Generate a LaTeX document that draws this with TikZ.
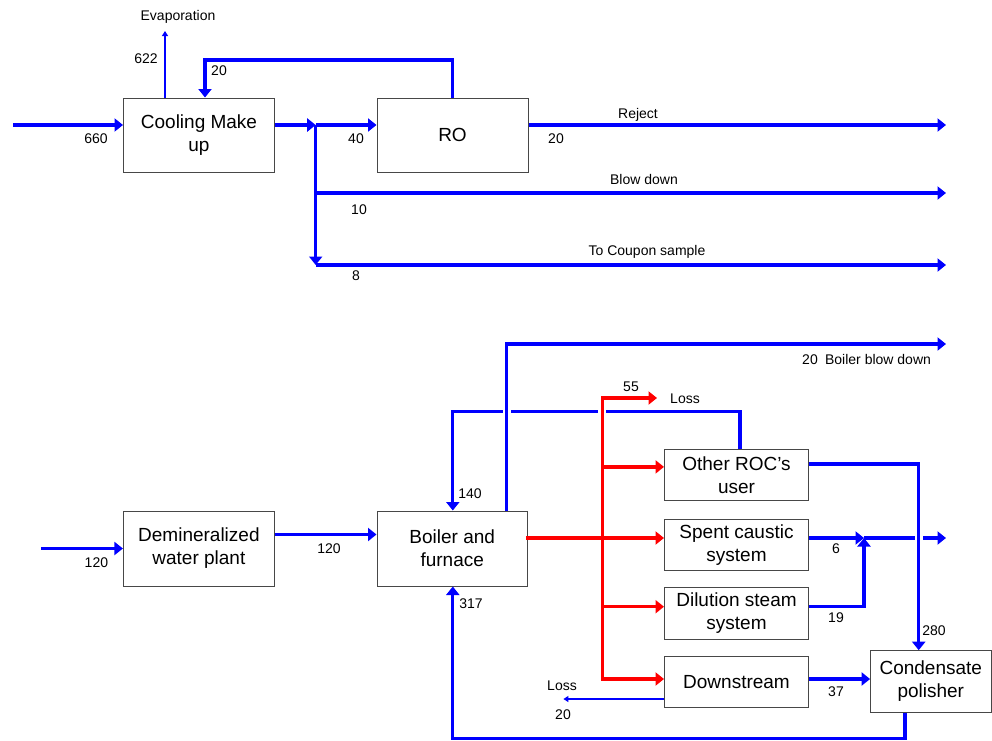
\documentclass[tikz,border=0pt]{standalone}
\usepackage{fontspec}
\setmainfont{Liberation Sans}
\usetikzlibrary{arrows.meta,calc}
\begin{document}
\begin{tikzpicture}[x=1pt,y=-1pt,
  box/.style={draw=black!72,line width=1pt,fill=white,align=center,inner sep=0pt,font=\fontsize{19}{23}\selectfont},
  lbl/.style={inner sep=0pt,text height=10pt,text depth=0pt,font=\fontsize{14}{16}\selectfont},
  flow/.style={draw=blue,line width=3.3pt,-{Triangle[length=8.5pt,width=13pt]}},
  bline/.style={draw=blue,line width=3.3pt},
  rflow/.style={draw=red,line width=3.3pt,line cap=rect,-{Triangle[length=8.5pt,width=13pt]}},
  thinflow/.style={draw=blue,line width=1.2pt,-{Triangle[length=5pt,width=6pt]}},
  halo/.style={draw=white,line width=8pt}
]
\useasboundingbox (0,0) rectangle (992,740);

% ---------- boxes ----------
\node[box,minimum width=151pt,minimum height=74.5pt] (cool) at (199,135.25) {Cooling Make\\up};
\node[box,minimum width=151pt,minimum height=74.5pt] (ro) at (452.5,135.25) {RO};
\node[box,minimum width=151pt,minimum height=75pt] (demin) at (198.9,548.5) {Demineralized\\water plant};
\node[box,minimum width=150.5pt,minimum height=75pt] (boiler) at (452.25,548.5) {Boiler and\\furnace};
\node[box,minimum width=144pt,minimum height=51.7pt] (other) at (736.5,474.9) {Other ROC’s\\user};
\node[box,minimum width=144pt,minimum height=51.4pt] (spent) at (736.5,545) {Spent caustic\\system};
\node[box,minimum width=144pt,minimum height=51.3pt] (dil) at (736.5,613.4) {Dilution steam\\system};
\node[box,minimum width=144pt,minimum height=51.3pt] (down) at (736.5,681.7) {Downstream};
\node[box,minimum width=120.4pt,minimum height=61.6pt] (cond) at (930.8,681.5) {Condensate\\polisher};

% ---------- top coordinates ----------
\coordinate (inA) at (13,125);
\coordinate (evap) at (165,31);
\coordinate (rc1) at (452.5,60);
\coordinate (rc2) at (205,60);
\coordinate (j) at (315.7,125);
\coordinate (jm) at (315.7,193);
\coordinate (jb) at (315.7,265);
\coordinate (rej) at (946,125);
\coordinate (bd) at (946,193);
\coordinate (cp) at (946,265);

% ---------- top connectors ----------
\draw[flow] (inA) -- (inA -| cool.west);
\draw[thinflow] (cool.north -| evap) -- (evap);
\draw[flow] (ro.north) -- (rc1) -- (rc2) -- (rc2 |- cool.north);
\draw[flow] (cool.east |- j) -- (j);
\draw[flow] (j) -- (j -| ro.west);
\draw[bline] (j) -- ($(jb)+(0,-6)$);
\draw[flow] (jm) -- (bd);
\draw[flow] (jb) -- (cp);
\draw[flow] ($(jb)+(0,-8)$) -- (jb);
\draw[flow] (ro.east |- j) -- (rej);

% ---------- top labels ----------
\node[lbl] (tEvap) at (178,15) {Evaporation};
\node[lbl] (t622) at (146,58) {622};
\node[lbl] (t20a) at (219,70) {20};
\node[lbl] (t660) at (96,138) {660};
\node[lbl] (t40) at (356,138) {40};
\node[lbl] (tRej) at (638,113) {Reject};
\node[lbl] (t20b) at (556,138) {20};
\node[lbl] (tBd) at (644,179) {Blow down};
\node[lbl] (t10) at (359,209) {10};
\node[lbl] (tCp) at (647,250) {To Coupon sample};
\node[lbl] (t8) at (356,275) {8};

% ---------- bottom coordinates ----------
\coordinate (inB) at (41,548.5);
\coordinate (d2) at (0,534.5);
\coordinate (bb1) at (506.8,344);
\coordinate (bb2) at (946,344);
\coordinate (r1) at (740,411.7);
\coordinate (r2) at (452.8,411.7);
\coordinate (rv1) at (602.4,398);
\coordinate (rv2) at (602.4,679);
\coordinate (lossR) at (657,398);
\coordinate (o1) at (918.7,464);
\coordinate (sp) at (864,538);
\coordinate (spE) at (946,538);
\coordinate (dl) at (864,606.7);
\coordinate (lossB) at (563.4,699);
\coordinate (ret1) at (905,738.3);
\coordinate (ret2) at (452.8,738.3);

% ---------- bottom connectors ----------
\draw[flow] (inB) -- (demin.west);
\draw[flow] (demin.east |- d2) -- (boiler.west |- d2);
% 140 return
\draw[flow] (other.north -| r1) -- (r1) -- (r2) -- (boiler.north -| r2);
% boiler blow down (crosses 140 line)
\draw[halo] (506.8,402) -- (506.8,421);
\draw[flow] (boiler.north -| bb1) -- (bb1) -- (bb2);
% red steam
\draw[halo] (602.4,402) -- (602.4,421);
\draw[rflow] (rv2) -- (rv1) -- (lossR);
\draw[rflow] (boiler.east |- sp) -- (spent.west |- sp);
\draw[rflow] (rv2 |- other.west) ++(0,-8) -- ($(other.west)+(0,-8)$);
\draw[rflow] (rv2 |- dl) -- (dil.west |- dl);
\draw[rflow] (rv2) -- (down.west |- rv2);
% outputs
\draw[flow] (spent.east |- sp) -- (sp);
\draw[flow] (sp) -- (spE);
\draw[flow] (dil.east |- dl) -- (dl) -- (sp);
\draw[halo] (918.7,530) -- (918.7,546);
\draw[flow] (other.east |- o1) -- (o1) -- (o1 |- cond.north);
\draw[flow] (down.east |- rv2) -- (cond.west |- rv2);
\draw[thinflow] (down.west |- lossB) -- (lossB);
\draw[flow] (cond.south -| ret1) -- (ret1) -- (ret2) -- (boiler.south -| ret2);

% ---------- bottom labels ----------
\node[lbl] (t120a) at (96.4,562) {120};
\node[lbl] (t120b) at (329,548) {120};
\node[lbl] (t20c) at (810,359) {20};
\node[lbl] (tBbd) at (878,359) {Boiler blow down};
\node[lbl] (t55) at (631,386) {55};
\node[lbl] (tLossA) at (685,398) {Loss};
\node[lbl] (t140) at (470,493) {140};
\node[lbl] (t317) at (471,603) {317};
\node[lbl] (t6) at (836,548) {6};
\node[lbl] (t19) at (836,617) {19};
\node[lbl] (t37) at (836,691) {37};
\node[lbl] (t280) at (934,630) {280};
\node[lbl] (tLossB) at (562,685) {Loss};
\node[lbl] (t20d) at (563,714) {20};
\end{tikzpicture}
\end{document}
